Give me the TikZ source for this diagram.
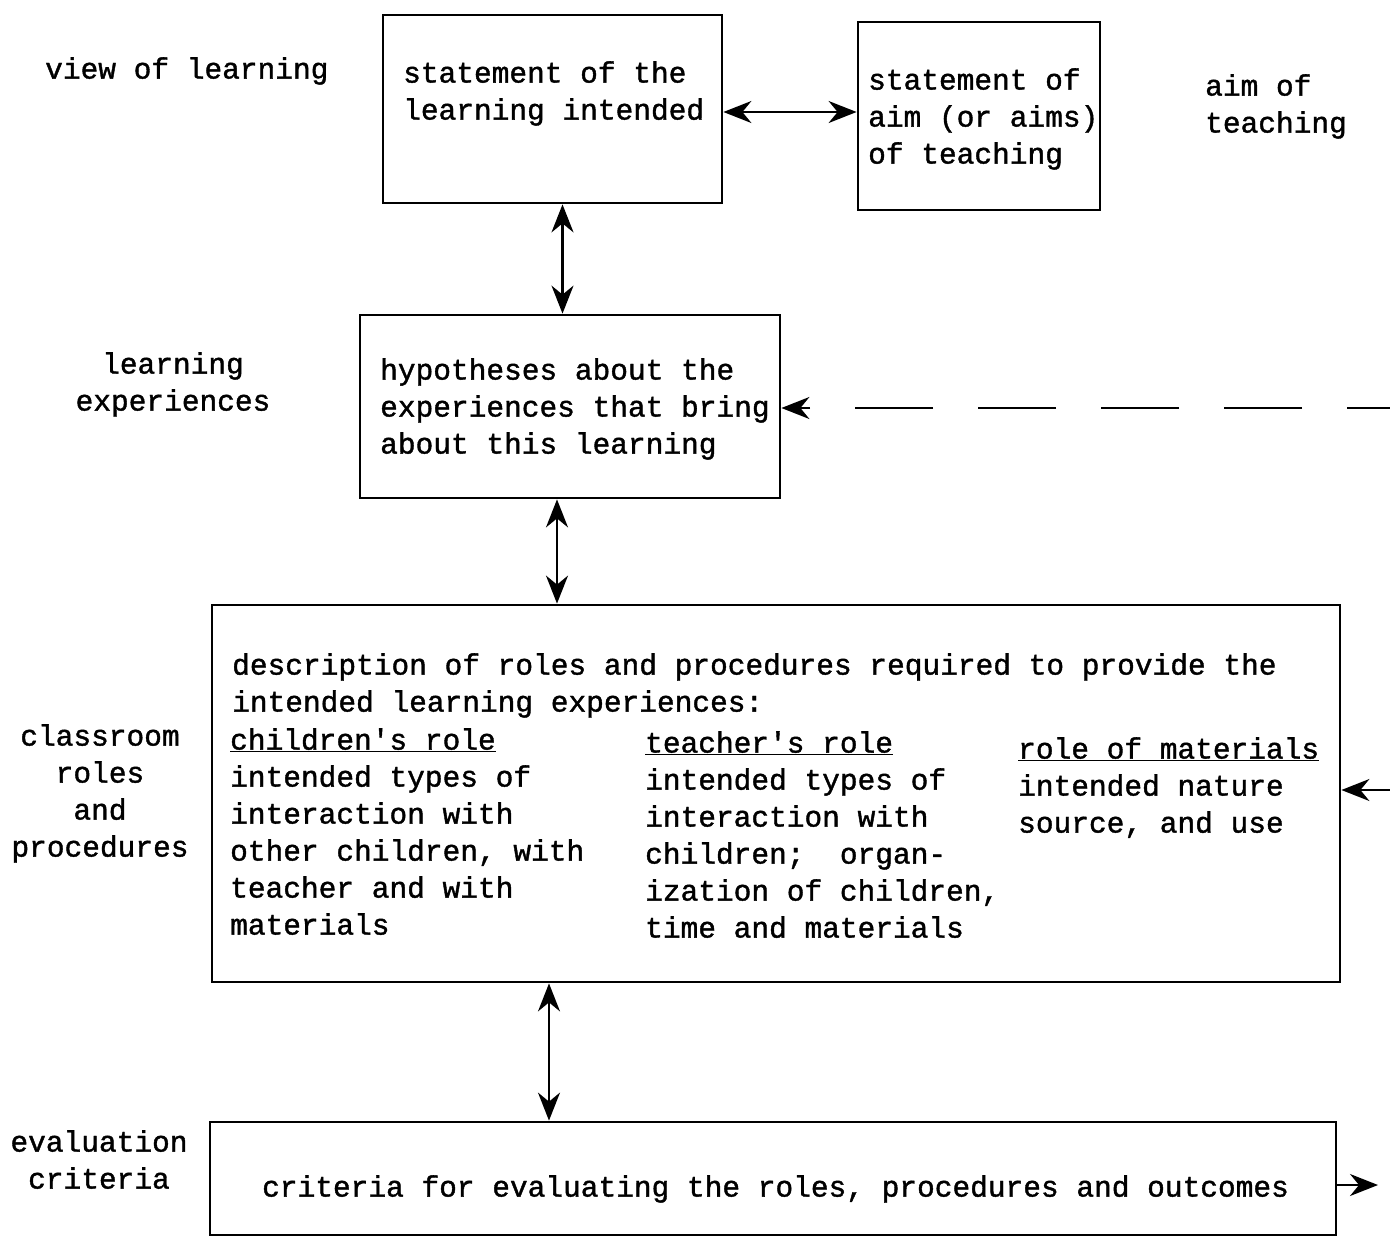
\documentclass[tikz,border=0pt]{standalone}
\usepackage{fontspec}
\setmainfont{Liberation Mono}[FakeBold=1.3]
\usepackage{tikz}
\usetikzlibrary{arrows.meta}
\tikzset{
  tip/.tip={Stealth[length=28pt,width=22pt,inset=9pt]},
  twoway/.style={line width=2.2pt, tip-tip},
  oneway/.style={line width=2.2pt, -tip}
}

\begin{document}
\begin{tikzpicture}[x=1pt,y=-1pt,
  every node/.style={font=\fontsize{29.5}{37}\selectfont}]
\useasboundingbox (0,0) rectangle (1390,1240);
\tikzstyle{frame}=[rectangle, draw, line width=2.8pt, inner sep=0pt]
\tikzstyle{txt}=[inner sep=0pt, align=left, anchor=north west]
\tikzstyle{side}=[inner sep=0pt, align=center, anchor=north]

% boxes
\node[frame, minimum width=339, minimum height=188] (learn) at (552.5,109) {};
\node[frame, minimum width=242, minimum height=188] (aim) at (979,116) {};
\node[frame, minimum width=420, minimum height=183] (hypo) at (570,406.5) {};
\node[frame, minimum width=1128, minimum height=377] (roles) at (776,793.5) {};
\node[frame, minimum width=1126, minimum height=113] (crit) at (773,1178.5) {};

% texts in the boxes
\node[txt] (learntxt) at (403,61) {statement of the\\learning intended};
\node[txt] (aimtxt) at (868,68) {statement of\\aim (or aims)\\of teaching};
\node[txt] (hypotxt) at (380,358) {hypotheses about the\\experiences that bring\\about this learning};
\node[txt] (rolestxt) at (232,653) {description of roles and procedures required to provide the\\intended learning experiences:};
\node[txt] (childtxt) at (230,728) {\underline{children\textquotesingle s role}\\intended types of\\interaction with\\other children, with\\teacher and with\\materials};
\node[txt] (teachtxt) at (645,731) {\underline{teacher\textquotesingle s role}\\intended types of\\interaction with\\children;\ \ organ-\\ization of children,\\time and materials};
\node[txt] (mattxt) at (1018,737) {\underline{role of materials}\\intended nature\\source, and use};
\node[txt] (crittxt) at (262,1175) {criteria for evaluating the roles, procedures and outcomes};

% labels at the sides
\node[txt] (viewlbl) at (45,57) {view of learning};
\node[txt] (aimlbl) at (1205,74) {aim of\\teaching};
\node[side] (explbl) at (173,352) {learning\\experiences};
\node[side] (classlbl) at (100,724) {classroom\\roles\\and\\procedures};
\node[side] (evallbl) at (99,1130) {evaluation\\criteria};

% connectors
\coordinate (dashin) at (1390,408);
\coordinate (rightin) at (1390,790);
\coordinate (critout) at (1378,1185);

\draw[twoway] ([yshift=-3pt]learn.east) -- ([yshift=-3pt]learn.east -| aim.west);
\draw[twoway] ([xshift=10pt]learn.south) -- ([xshift=10pt]learn.south |- hypo.north);
\draw[twoway] ([xshift=-13pt]hypo.south) -- ([xshift=-13pt]hypo.south |- roles.north);
\draw[twoway] ([xshift=-227pt]roles.south) -- ([xshift=-227pt]roles.south |- crit.north);
\draw[oneway, dash pattern=on 78pt off 45pt, dash phase=35pt] (dashin) -- (dashin -| hypo.east);
\draw[oneway] (rightin) -- (rightin -| roles.east);
\draw[oneway] (critout -| crit.east) -- (critout);
\end{tikzpicture}
\end{document}
